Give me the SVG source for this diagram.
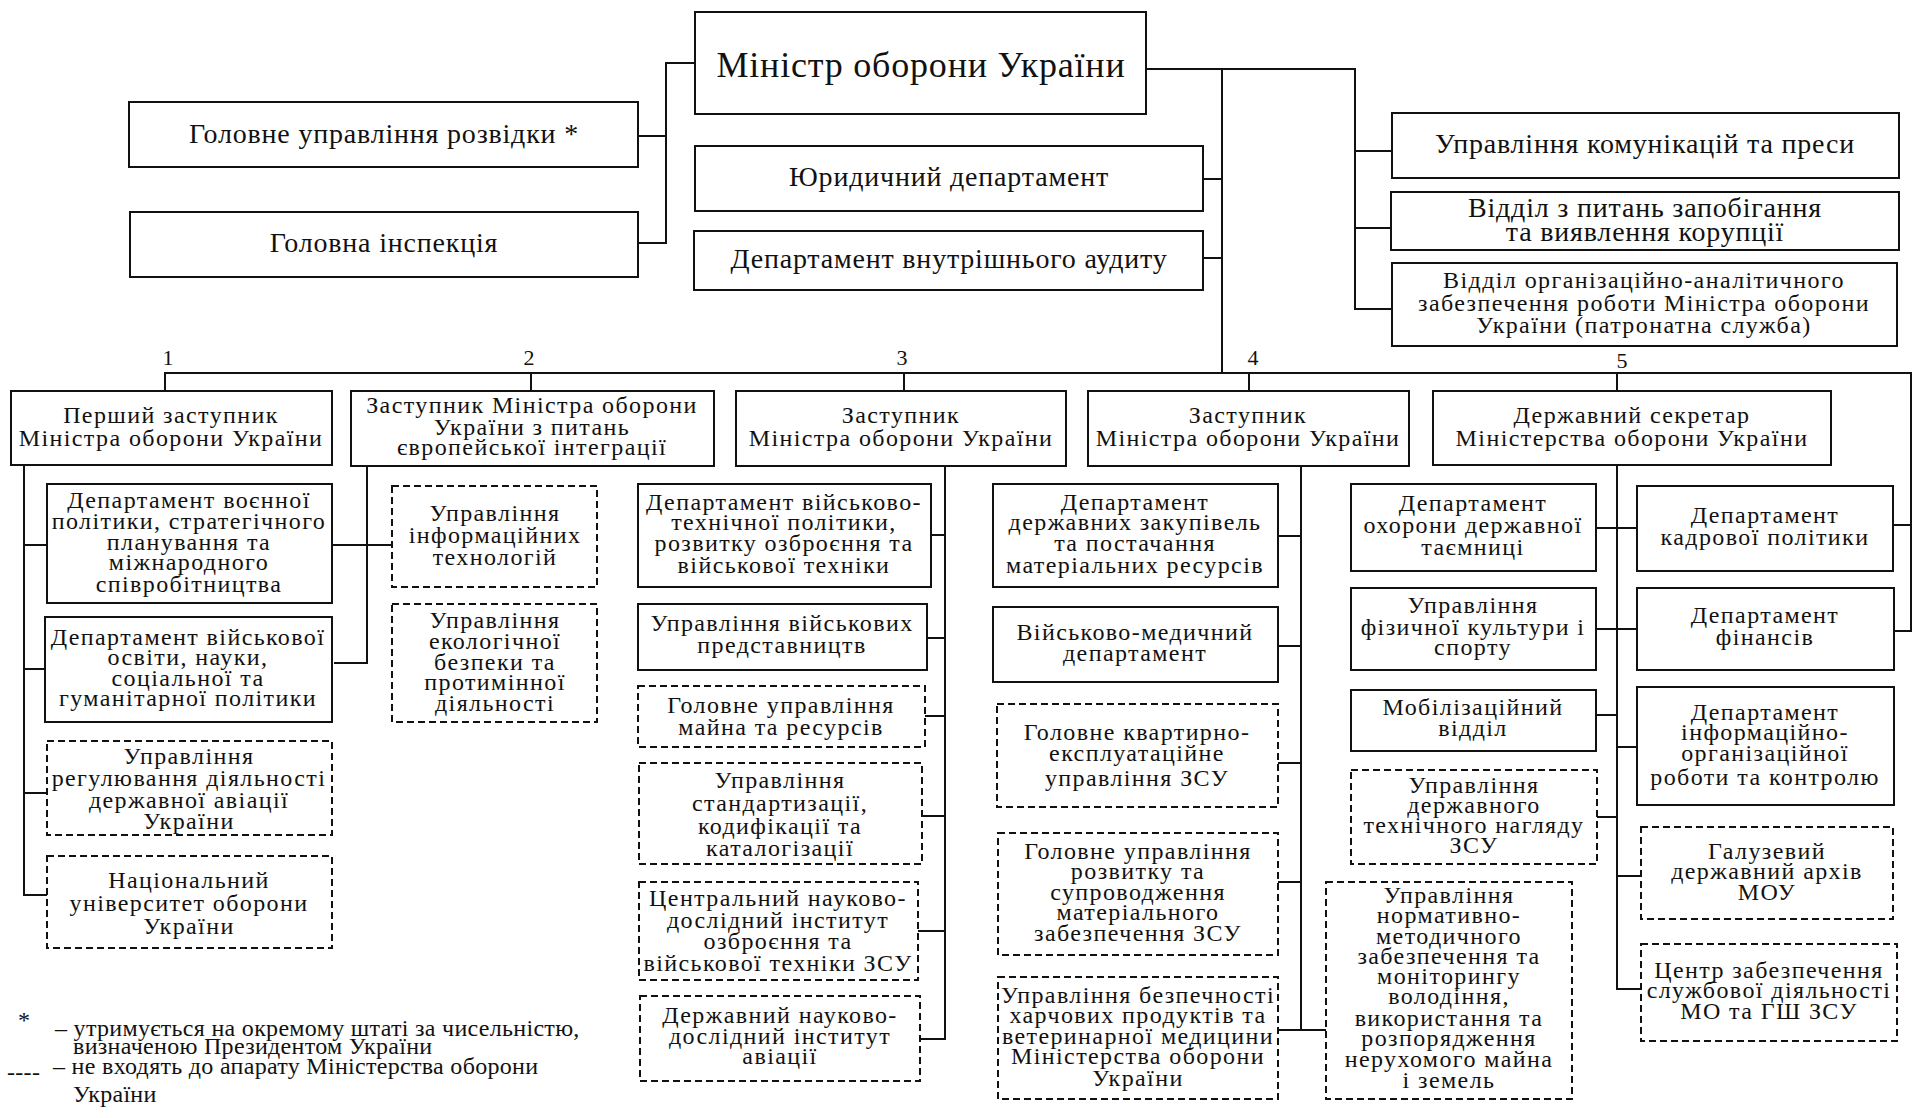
<svg xmlns="http://www.w3.org/2000/svg" width="1920" height="1118" viewBox="0 0 1920 1118">
<style>
.box{fill:#fff;stroke:#111;stroke-width:2}
.dbox{fill:#fff;stroke:#111;stroke-width:2;stroke-dasharray:7 4}
.c{fill:none;stroke:#111;stroke-width:2}
text{font-family:"Liberation Serif","Times New Roman",serif;fill:#111}
.t{font-size:24px;text-anchor:middle;letter-spacing:1.4px}
.tb{font-size:28px;text-anchor:middle;letter-spacing:0.8px}
.tm{font-size:36px;text-anchor:middle;letter-spacing:0.8px}
.n{font-size:22px;text-anchor:middle}
.f{font-size:24px;letter-spacing:0.3px}
</style>
<rect width="1920" height="1118" fill="#fff"/>
<g id="connectors">
<path class="c" d="M695 63H666V243H638M638 136H666"/>
<path class="c" d="M1146 69H1355V309H1392M1355 151H1392M1355 228H1391"/>
<path class="c" d="M1222 69V373M1203 179H1222M1203 258H1222"/>
<path class="c" d="M165 391V373H1911V631H1894M1893 525H1911"/>
<path class="c" d="M531 373V391M904 373V391M1249 373V391M1617 373V391"/>
<path class="c" d="M24 465V895H47M24 545H47M24 669H45M24 793H47"/>
<path class="c" d="M367 466V663H334M332 545H392"/>
<path class="c" d="M945 466V1039H920M931 535H945M927 638H945M925 716H945M922 816H945M918 931H945"/>
<path class="c" d="M1301 466V1030H1278M1278 536H1301M1278 646H1301M1278 763H1301M1278 882H1301M1301 1030H1326"/>
<path class="c" d="M1617 465V989H1641M1596 528H1637M1596 629H1637M1596 715H1617M1597 817H1617M1617 747H1637M1617 876H1641"/>
</g>
<g id="minister"><rect class="box" x="695" y="12" width="451" height="102"/><text class="tm" x="921" y="77">Міністр оборони України</text></g>
<g id="rozvidka"><rect class="box" x="129" y="102" width="509" height="65"/><text class="tb" x="384" y="143">Головне управління розвідки *</text></g>
<g id="inspektsiia"><rect class="box" x="130" y="212" width="508" height="65"/><text class="tb" x="384" y="252">Головна інспекція</text></g>
<g id="yurdep"><rect class="box" x="695" y="146" width="508" height="65"/><text class="tb" x="949" y="186">Юридичний департамент</text></g>
<g id="audyt"><rect class="box" x="694" y="231" width="509" height="59"/><text class="tb" x="949" y="268">Департамент внутрішнього аудиту</text></g>
<g id="komunikatsii"><rect class="box" x="1392" y="113" width="507" height="65"/><text class="tb" x="1645" y="153">Управління комунікацій та преси</text></g>
<g id="koruptsiia"><rect class="box" x="1391" y="192" width="508" height="58"/><text class="tb" x="1645" y="217">Відділ з питань запобігання</text><text class="tb" x="1645" y="241">та виявлення корупції</text></g>
<g id="patronat"><rect class="box" x="1392" y="263" width="505" height="83"/><text class="t" x="1644" y="288">Відділ організаційно-аналітичного</text><text class="t" x="1644" y="311">забезпечення роботи Міністра оборони</text><text class="t" x="1644" y="333">України (патронатна служба)</text></g>
<g id="nums"><text class="n" x="168" y="365">1</text><text class="n" x="529" y="365">2</text><text class="n" x="902" y="365">3</text><text class="n" x="1253" y="365">4</text><text class="n" x="1622" y="368">5</text></g>
<g id="z1"><rect class="box" x="11" y="391" width="321" height="74"/><text class="t" x="171" y="423">Перший заступник</text><text class="t" x="171" y="446">Міністра оборони України</text></g>
<g id="z2"><rect class="box" x="351" y="391" width="363" height="75"/><text class="t" x="532" y="413">Заступник Міністра оборони</text><text class="t" x="532" y="435">України з питань</text><text class="t" x="532" y="455">європейської інтеграції</text></g>
<g id="z3"><rect class="box" x="736" y="391" width="330" height="75"/><text class="t" x="901" y="423">Заступник</text><text class="t" x="901" y="446">Міністра оборони України</text></g>
<g id="z4"><rect class="box" x="1088" y="391" width="321" height="75"/><text class="t" x="1248" y="423">Заступник</text><text class="t" x="1248" y="446">Міністра оборони України</text></g>
<g id="z5"><rect class="box" x="1433" y="391" width="398" height="74"/><text class="t" x="1632" y="423">Державний секретар</text><text class="t" x="1632" y="446">Міністерства оборони України</text></g>
<g id="c1a"><rect class="box" x="47" y="484" width="285" height="119"/><text class="t" x="189" y="508">Департамент воєнної</text><text class="t" x="189" y="529">політики, стратегічного</text><text class="t" x="189" y="550">планування та</text><text class="t" x="189" y="570">міжнародного</text><text class="t" x="189" y="592">співробітництва</text></g>
<g id="c1b"><rect class="box" x="45" y="617" width="287" height="105"/><text class="t" x="188" y="645">Департамент військової</text><text class="t" x="188" y="665">освіти, науки,</text><text class="t" x="188" y="686">соціальної та</text><text class="t" x="188" y="706">гуманітарної політики</text></g>
<g id="c1c"><rect class="dbox" x="47" y="741" width="285" height="94"/><text class="t" x="189" y="764">Управління</text><text class="t" x="189" y="786">регулювання діяльності</text><text class="t" x="189" y="808">державної авіації</text><text class="t" x="189" y="829">України</text></g>
<g id="c1d"><rect class="dbox" x="47" y="856" width="285" height="92"/><text class="t" x="189" y="888">Національний</text><text class="t" x="189" y="911">університет оборони</text><text class="t" x="189" y="934">України</text></g>
<g id="c2a"><rect class="dbox" x="392" y="486" width="205" height="101"/><text class="t" x="495" y="521">Управління</text><text class="t" x="495" y="543">інформаційних</text><text class="t" x="495" y="565">технологій</text></g>
<g id="c2b"><rect class="dbox" x="392" y="604" width="205" height="118"/><text class="t" x="495" y="628">Управління</text><text class="t" x="495" y="649">екологічної</text><text class="t" x="495" y="670">безпеки та</text><text class="t" x="495" y="690">протимінної</text><text class="t" x="495" y="711">діяльності</text></g>
<g id="c3a"><rect class="box" x="638" y="484" width="293" height="103"/><text class="t" x="784" y="510">Департамент військово-</text><text class="t" x="784" y="530">технічної політики,</text><text class="t" x="784" y="551">розвитку озброєння та</text><text class="t" x="784" y="573">військової техніки</text></g>
<g id="c3b"><rect class="box" x="638" y="604" width="289" height="66"/><text class="t" x="782" y="631">Управління військових</text><text class="t" x="782" y="653">представництв</text></g>
<g id="c3c"><rect class="dbox" x="638" y="686" width="287" height="61"/><text class="t" x="781" y="713">Головне управління</text><text class="t" x="781" y="735">майна та ресурсів</text></g>
<g id="c3d"><rect class="dbox" x="639" y="763" width="283" height="101"/><text class="t" x="780" y="788">Управління</text><text class="t" x="780" y="811">стандартизації,</text><text class="t" x="780" y="834">кодифікації та</text><text class="t" x="780" y="856">каталогізації</text></g>
<g id="c3e"><rect class="dbox" x="639" y="882" width="279" height="98"/><text class="t" x="778" y="906">Центральний науково-</text><text class="t" x="778" y="928">дослідний інститут</text><text class="t" x="778" y="949">озброєння та</text><text class="t" x="778" y="971">військової техніки ЗСУ</text></g>
<g id="c3f"><rect class="dbox" x="640" y="996" width="280" height="85"/><text class="t" x="780" y="1023">Державний науково-</text><text class="t" x="780" y="1044">дослідний інститут</text><text class="t" x="780" y="1064">авіації</text></g>
<g id="c4a"><rect class="box" x="993" y="484" width="285" height="103"/><text class="t" x="1135" y="510">Департамент</text><text class="t" x="1135" y="530">державних закупівель</text><text class="t" x="1135" y="551">та постачання</text><text class="t" x="1135" y="573">матеріальних ресурсів</text></g>
<g id="c4b"><rect class="box" x="993" y="607" width="285" height="75"/><text class="t" x="1135" y="640">Військово-медичний</text><text class="t" x="1135" y="661">департамент</text></g>
<g id="c4c"><rect class="dbox" x="997" y="704" width="281" height="103"/><text class="t" x="1137" y="740">Головне квартирно-</text><text class="t" x="1137" y="761">експлуатаційне</text><text class="t" x="1137" y="786">управління ЗСУ</text></g>
<g id="c4d"><rect class="dbox" x="998" y="833" width="280" height="122"/><text class="t" x="1138" y="859">Головне управління</text><text class="t" x="1138" y="879">розвитку та</text><text class="t" x="1138" y="900">супроводження</text><text class="t" x="1138" y="920">матеріального</text><text class="t" x="1138" y="941">забезпечення ЗСУ</text></g>
<g id="c4e"><rect class="dbox" x="998" y="977" width="280" height="122"/><text class="t" x="1138" y="1003">Управління безпечності</text><text class="t" x="1138" y="1023">харчових продуктів та</text><text class="t" x="1138" y="1044">ветеринарної медицини</text><text class="t" x="1138" y="1064">Міністерства оборони</text><text class="t" x="1138" y="1086">України</text></g>
<g id="c5a"><rect class="box" x="1351" y="484" width="245" height="87"/><text class="t" x="1473" y="511">Департамент</text><text class="t" x="1473" y="533">охорони державної</text><text class="t" x="1473" y="555">таємниці</text></g>
<g id="c5b"><rect class="box" x="1351" y="588" width="245" height="82"/><text class="t" x="1473" y="613">Управління</text><text class="t" x="1473" y="635">фізичної культури і</text><text class="t" x="1473" y="655">спорту</text></g>
<g id="c5c"><rect class="box" x="1351" y="690" width="245" height="61"/><text class="t" x="1473" y="715">Мобілізаційний</text><text class="t" x="1473" y="736">відділ</text></g>
<g id="c5d"><rect class="dbox" x="1351" y="770" width="246" height="94"/><text class="t" x="1474" y="793">Управління</text><text class="t" x="1474" y="813">державного</text><text class="t" x="1474" y="833">технічного нагляду</text><text class="t" x="1474" y="853">ЗСУ</text></g>
<g id="c5e"><rect class="dbox" x="1326" y="882" width="246" height="217"/><text class="t" x="1449" y="903">Управління</text><text class="t" x="1449" y="923">нормативно-</text><text class="t" x="1449" y="944">методичного</text><text class="t" x="1449" y="964">забезпечення та</text><text class="t" x="1449" y="984">моніторингу</text><text class="t" x="1449" y="1004">володіння,</text><text class="t" x="1449" y="1026">використання та</text><text class="t" x="1449" y="1046">розпорядження</text><text class="t" x="1449" y="1067">нерухомого майна</text><text class="t" x="1449" y="1088">і земель</text></g>
<g id="c5f"><rect class="box" x="1637" y="486" width="256" height="85"/><text class="t" x="1765" y="523">Департамент</text><text class="t" x="1765" y="545">кадрової політики</text></g>
<g id="c5g"><rect class="box" x="1637" y="588" width="257" height="82"/><text class="t" x="1765" y="623">Департамент</text><text class="t" x="1765" y="645">фінансів</text></g>
<g id="c5h"><rect class="box" x="1637" y="687" width="257" height="118"/><text class="t" x="1765" y="720">Департамент</text><text class="t" x="1765" y="740">інформаційно-</text><text class="t" x="1765" y="761">організаційної</text><text class="t" x="1765" y="785">роботи та контролю</text></g>
<g id="c5i"><rect class="dbox" x="1641" y="827" width="252" height="92"/><text class="t" x="1767" y="859">Галузевий</text><text class="t" x="1767" y="879">державний архів</text><text class="t" x="1767" y="900">МОУ</text></g>
<g id="c5j"><rect class="dbox" x="1641" y="944" width="256" height="97"/><text class="t" x="1769" y="978">Центр забезпечення</text><text class="t" x="1769" y="998">службової діяльності</text><text class="t" x="1769" y="1019">МО та ГШ ЗСУ</text></g>
<g id="legend">
<text class="f" x="18" y="1028">*</text>
<text class="f" x="55" y="1036">– утримується на окремому штаті за чисельністю,</text>
<text class="f" x="73" y="1054">визначеною Президентом України</text>
<text class="f" x="7" y="1080">----</text>
<text class="f" x="53" y="1074">– не входять до апарату Міністерства оборони</text>
<text class="f" x="73" y="1102">України</text>
</g>
</svg>
